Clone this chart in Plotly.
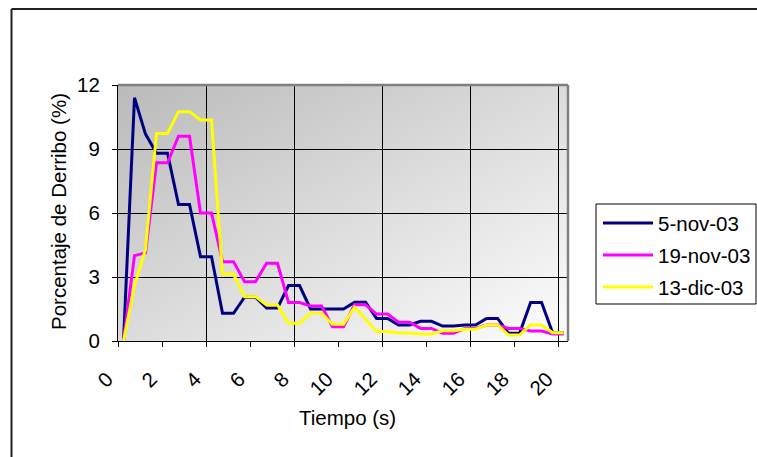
import base64
import struct
import zlib

import plotly.graph_objects as go

# Time (s) of each sample
tiempo = [0.25, 0.75, 1.25, 1.75, 2.25, 2.75, 3.25, 3.75, 4.25, 4.75,
          5.25, 5.75, 6.25, 6.75, 7.25, 7.75, 8.25, 8.75, 9.25, 9.75,
          10.25, 10.75, 11.25, 11.75, 12.25, 12.75, 13.25, 13.75, 14.25, 14.75,
          15.25, 15.75, 16.25, 16.75, 17.25, 17.75, 18.25, 18.75, 19.25, 19.75,
          20.25]

# Porcentaje de derribo (%) per test date
nov05 = [0, 11.4, 9.7, 8.8, 8.8, 6.4, 6.4, 3.95, 3.95, 1.3,
         1.3, 2.05, 2.05, 1.55, 1.55, 2.6, 2.6, 1.5, 1.5, 1.5,
         1.5, 1.82, 1.82, 1.06, 1.06, 0.75, 0.75, 0.92, 0.92, 0.7,
         0.7, 0.75, 0.75, 1.06, 1.06, 0.36, 0.36, 1.8, 1.8, 0.39,
         0.39]
nov19 = [0, 4.0, 4.13, 8.35, 8.35, 9.6, 9.6, 6.0, 6.0, 3.72,
         3.72, 2.78, 2.78, 3.64, 3.64, 1.8, 1.8, 1.64, 1.64, 0.67,
         0.67, 1.7, 1.7, 1.26, 1.26, 0.88, 0.88, 0.59, 0.59, 0.36,
         0.36, 0.59, 0.59, 0.75, 0.75, 0.59, 0.59, 0.47, 0.47, 0.33,
         0.33]
dic13 = [0, 2.6, 4.3, 9.73, 9.73, 10.75, 10.75, 10.36, 10.36, 3.14,
         3.14, 2.08, 2.08, 1.69, 1.69, 0.83, 0.83, 1.3, 1.3, 0.78,
         0.78, 1.58, 1.02, 0.44, 0.44, 0.37, 0.37, 0.33, 0.33, 0.48,
         0.48, 0.55, 0.55, 0.75, 0.75, 0.28, 0.28, 0.75, 0.75, 0.39,
         0.39]

series_names = ["5-nov-03", "19-nov-03", "13-dic-03"]
series_values = [nov05, nov19, dic13]
series_colors = ["#000080", "#FF00FF", "#FFFF00"]

x_ticks = [0, 2, 4, 6, 8, 10, 12, 14, 16, 18, 20]
y_ticks = [0, 3, 6, 9, 12]

FONT = "Liberation Sans, Arial, sans-serif"
FS = 20.5

W, H = 757, 457
ML, MT = 118, 85
PW, PH = 450, 256


def px(xpix):
    return (xpix - ML) / PW


def py(ypix):
    return (MT + PH - ypix) / PH


def gradient_png(w, h, c0=186, c1=253):
    """Grey corner-to-corner gradient, dark at top-left."""
    raw = bytearray()
    for j in range(h):
        raw.append(0)
        for i in range(w):
            t = (i / (w - 1) + j / (h - 1)) / 2
            raw.append(int(round(c0 + (c1 - c0) * t)))

    def chunk(tag, data):
        return (struct.pack(">I", len(data)) + tag + data
                + struct.pack(">I", zlib.crc32(tag + data) & 0xFFFFFFFF))

    png = b"\x89PNG\r\n\x1a\n"
    png += chunk(b"IHDR", struct.pack(">IIBBBBB", w, h, 8, 0, 0, 0, 0))
    png += chunk(b"IDAT", zlib.compress(bytes(raw), 9))
    png += chunk(b"IEND", b"")
    return "data:image/png;base64," + base64.b64encode(png).decode()


fig = go.Figure()
for name, vals, col in zip(series_names, series_values, series_colors):
    fig.add_trace(go.Scatter(
        x=tiempo, y=vals, name=name, mode="lines",
        line=dict(color=col, width=3),
        showlegend=False, hoverinfo="skip",
    ))

xrange = [0, 20.45]

fig.update_layout(
    width=W, height=H,
    margin=dict(l=ML, r=W - ML - PW, t=MT, b=H - MT - PH, pad=0),
    paper_bgcolor="white",
    plot_bgcolor="rgba(0,0,0,0)",
    font=dict(family=FONT, size=FS, color="black"),
    xaxis=dict(
        range=xrange, tickmode="array", tickvals=x_ticks,
        ticktext=[str(v) for v in x_ticks], tickangle=-45,
        ticks="outside", ticklen=5, tickcolor="black", tickwidth=1,
        showgrid=False, zeroline=False,
        showline=True, linecolor="black", linewidth=1,
        ticklabelstandoff=12, ticklabelshift=-11,
    ),
    xaxis2=dict(
        range=xrange, overlaying="x", tickmode="linear", tick0=0, dtick=4,
        showgrid=True, gridcolor="black", gridwidth=1,
        showticklabels=False, ticks="", zeroline=False, showline=False,
    ),
    yaxis=dict(
        range=[0, 12], tickmode="array", tickvals=y_ticks,
        ticks="outside", ticklen=5, tickcolor="black", tickwidth=1,
        showgrid=True, gridcolor="black", gridwidth=1, zeroline=False,
        showline=True, linecolor="black", linewidth=1,
        ticklabelstandoff=8,
    ),
    images=[dict(
        source=gradient_png(PW, PH), xref="paper", yref="paper",
        x=0, y=1, sizex=1, sizey=1, sizing="stretch",
        xanchor="left", yanchor="top", layer="below",
    )],
)

# invisible trace so the overlaid grid axis is drawn
fig.add_trace(go.Scatter(x=[xrange[0]], y=[0], xaxis="x2", mode="markers",
                         marker=dict(opacity=0), showlegend=False,
                         hoverinfo="skip"))

shapes = []
# plot-area frame (top and right edges)
shapes.append(dict(type="line", xref="paper", yref="paper", x0=0, x1=1,
                   y0=1, y1=1, line=dict(color="#808080", width=2.5),
                   layer="above"))
shapes.append(dict(type="line", xref="paper", yref="paper", x0=1, x1=1,
                   y0=0, y1=1, line=dict(color="#808080", width=2.5),
                   layer="above"))
# chart-area frame
shapes.append(dict(type="line", xref="paper", yref="paper",
                   x0=px(11.5), x1=px(760), y0=py(9), y1=py(9),
                   line=dict(color="#222222", width=2), layer="above"))
shapes.append(dict(type="line", xref="paper", yref="paper",
                   x0=px(11.5), x1=px(11.5), y0=py(9), y1=py(460),
                   line=dict(color="#222222", width=2), layer="above"))
# legend box
shapes.append(dict(type="rect", xref="paper", yref="paper",
                   x0=px(596), x1=px(756), y0=py(304), y1=py(204),
                   line=dict(color="black", width=1), fillcolor="white",
                   layer="above"))

annotations = []
row_y = [223, 255, 287]
for name, col, ry in zip(series_names, series_colors, row_y):
    shapes.append(dict(type="line", xref="paper", yref="paper",
                       x0=px(603), x1=px(653), y0=py(ry), y1=py(ry),
                       line=dict(color=col, width=3), layer="above"))
    annotations.append(dict(text=name, xref="paper", yref="paper",
                            x=px(656), y=py(ry), xanchor="left",
                            yanchor="middle", showarrow=False,
                            font=dict(size=FS)))

annotations.append(dict(text="Tiempo (s)", xref="paper", yref="paper",
                        x=px(347), y=py(417), xanchor="center",
                        yanchor="middle", showarrow=False,
                        font=dict(size=FS)))
annotations.append(dict(text="Porcentaje de Derribo (%)", xref="paper",
                        yref="paper", x=px(58), y=py(212), textangle=-90,
                        xanchor="center", yanchor="middle", showarrow=False,
                        font=dict(size=FS)))

fig.update_layout(shapes=shapes, annotations=annotations)

fig.write_html("out.html")
